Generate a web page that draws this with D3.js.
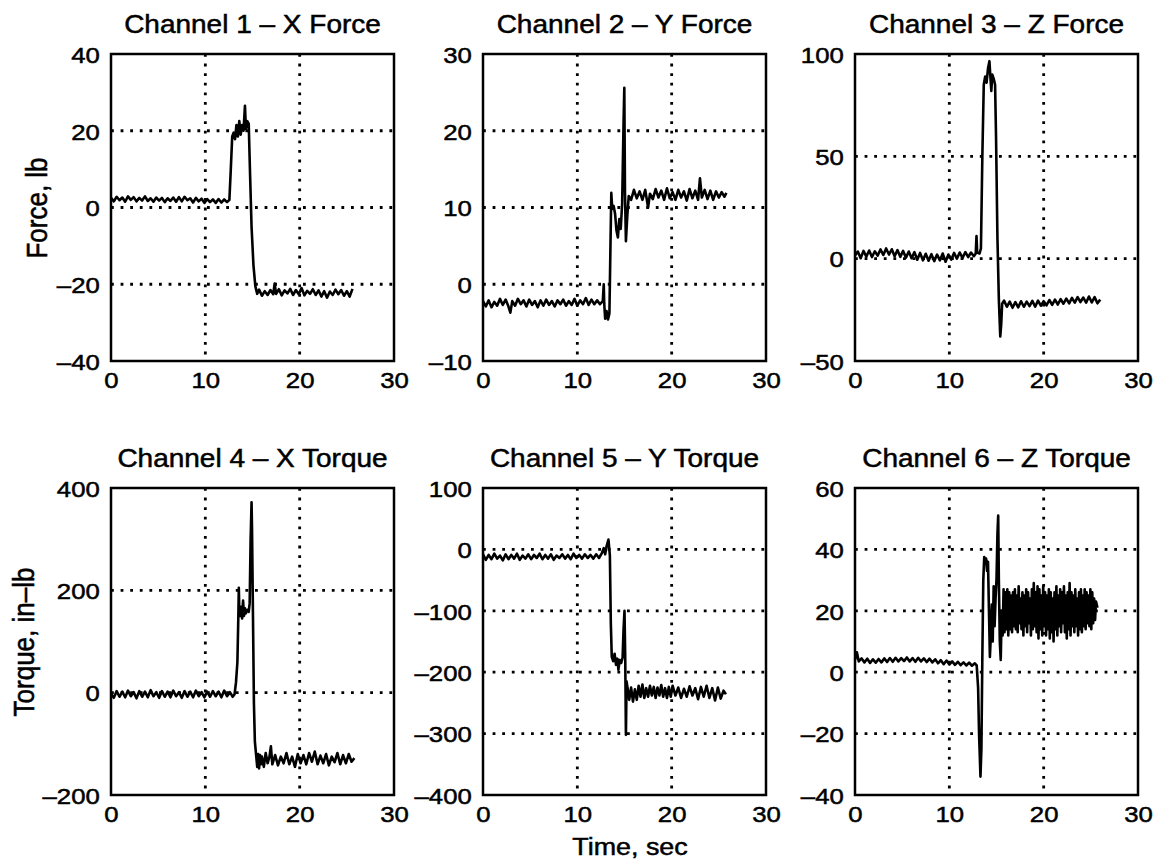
<!DOCTYPE html>
<html>
<head>
<meta charset="utf-8">
<script src="https://cdn.jsdelivr.net/npm/d3@7"></script>
<style>
  body { margin: 0; background: #fff; }
  svg { display: block; }
  text { font-family: "Liberation Sans", Arial, Helvetica, sans-serif; fill: #000; stroke: #000; stroke-width: 0.5px; }
</style>
</head>
<body>
<div id="chart"></div>
<script>
// time (sec), value pairs
var ch1 = [[0,2.5],[0.3,1.6],[0.6,2.8],[0.9,1.9],[1.2,2.6],[1.5,1.5],[1.8,2.9],[2.1,2.0],[2.4,2.7],[2.7,1.6],[3.0,2.5],[3.3,1.8],[3.6,2.9],[3.9,1.7],[4.2,2.4],[4.5,1.5],[4.8,2.6],[5.1,1.8],[5.4,2.5],[5.7,1.4],[6.0,2.4],[6.3,1.7],[6.6,2.6],[6.9,1.5],[7.2,2.7],[7.5,1.6],[7.8,2.8],[8.1,1.9],[8.4,2.4],[8.7,1.3],[9.0,2.5],[9.3,1.6],[9.6,2.3],[9.9,1.2],[10.2,2.2],[10.5,1.4],[10.8,2.1],[11.1,1.2],[11.4,2.2],[11.7,1.3],[12.0,2.1],[12.3,1.4],[12.55,2.0],
  [12.7,10],[12.85,18.5],[13.0,19.5],[13.15,17.8],[13.3,21.5],[13.45,18.5],[13.6,22.5],[13.75,19.0],[13.9,21.5],[14.05,20.0],[14.2,26.5],[14.3,20.5],[14.45,22.5],[14.6,21.8],[14.75,8],[14.9,-5],[15.1,-15],[15.3,-20.5],[15.5,-22.5],
  [15.7,-21.4],[16.0,-23.0],[16.3,-21.8],[16.6,-22.8],[16.9,-21.5],[17.2,-22.6],[17.35,-19.8],[17.5,-22.5],[17.8,-21.3],[18.1,-22.9],[18.4,-21.6],[18.7,-22.4],[19.0,-21.2],[19.3,-22.8],[19.6,-21.5],[19.9,-22.6],[20.2,-21.0],[20.5,-22.9],[20.8,-21.7],[21.1,-22.5],[21.4,-21.3],[21.7,-22.8],[22.0,-21.6],[22.3,-23.2],[22.6,-21.8],[22.9,-23.5],[23.2,-21.9],[23.5,-22.8],[23.8,-21.4],[24.1,-22.6],[24.4,-21.5],[24.7,-23.0],[25.0,-21.8],[25.3,-23.2],[25.6,-21.2]];

var ch2 = [[0,-2.2],[0.3,-2.9],[0.6,-2.1],[0.9,-3.0],[1.2,-2.3],[1.5,-2.8],[1.8,-1.9],[2.1,-2.7],[2.4,-2.0],[2.7,-2.9],[2.9,-3.7],[3.1,-2.2],[3.4,-2.8],[3.7,-1.9],[4.0,-2.6],[4.3,-2.1],[4.6,-2.9],[4.9,-2.0],[5.2,-2.7],[5.5,-2.2],[5.8,-3.0],[6.1,-2.1],[6.4,-2.8],[6.7,-2.0],[7.0,-2.7],[7.3,-2.2],[7.6,-2.9],[7.9,-2.1],[8.2,-2.6],[8.5,-2.0],[8.8,-2.8],[9.1,-2.2],[9.4,-2.7],[9.7,-1.9],[10.0,-2.8],[10.3,-2.1],[10.6,-2.6],[10.9,-1.8],[11.2,-2.7],[11.5,-2.0],[11.8,-2.6],[12.1,-2.1],[12.4,-2.6],[12.7,-2.2],
  [12.8,0.0],[12.85,-2.5],[12.95,-4.5],[13.1,-3.5],[13.25,-4.6],[13.4,-3.8],[13.6,11.9],[13.7,9.8],[13.85,10.2],[14.0,9.2],[14.15,7.0],[14.3,6.1],[14.45,8.5],[14.6,7.2],[14.75,10.5],[14.9,21],[14.98,25.6],[15.05,12],[15.15,5.6],[15.3,9],[15.45,11.5],
  [15.7,11.0],[16.0,12.3],[16.3,11.2],[16.6,12.1],[16.9,11.0],[17.2,12.3],[17.5,10.0],[17.7,11.8],[18.0,11.1],[18.3,12.4],[18.6,11.3],[18.9,12.2],[19.2,11.0],[19.5,12.5],[19.8,11.2],[20.1,12.0],[20.4,11.0],[20.7,12.3],[21.0,11.3],[21.3,12.1],[21.6,10.9],[21.9,12.4],[22.2,11.2],[22.5,12.2],[22.8,11.0],[23.0,13.8],[23.2,11.3],[23.5,12.3],[23.8,11.1],[24.1,12.2],[24.4,11.0],[24.7,12.1],[25.0,11.3],[25.3,12.0],[25.6,11.4],[25.8,11.9]];

var ch3 = [[0,1.5],[0.3,3.5],[0.6,0.2],[0.9,3.8],[1.2,1.0],[1.5,4.0],[1.8,0.8],[2.1,3.6],[2.4,1.5],[2.7,4.5],[3.0,1.8],[3.3,5.0],[3.6,2.0],[3.9,4.6],[4.2,1.2],[4.5,4.2],[4.8,0.9],[5.1,3.8],[5.4,0.5],[5.7,3.5],[6.0,0.2],[6.3,3.2],[6.6,-0.5],[6.9,2.8],[7.2,-0.8],[7.5,2.4],[7.8,-1.0],[8.1,2.2],[8.4,-1.2],[8.7,2.0],[9.0,-0.8],[9.3,2.5],[9.6,-1.5],[9.9,2.0],[10.2,-0.5],[10.5,2.8],[10.8,0.0],[11.1,3.0],[11.4,0.4],[11.7,3.2],[12.0,0.8],[12.3,3.0],[12.6,1.2],[12.8,2.5],
  [12.88,11],[12.95,3],[13.2,2.5],[13.35,5],[13.5,50],[13.65,85],[13.8,89],[13.95,86],[14.1,93],[14.25,96.5],[14.35,89],[14.45,82],[14.55,90],[14.7,88],[14.85,85],[14.95,60],[15.1,10],[15.25,-20],[15.4,-38],[15.5,-32],[15.6,-22],
  [15.8,-20.5],[16.1,-23.5],[16.4,-21.0],[16.7,-24.0],[17.0,-21.2],[17.3,-23.8],[17.6,-20.8],[17.9,-23.5],[18.2,-21.0],[18.5,-23.2],[18.8,-20.6],[19.1,-23.5],[19.4,-20.5],[19.7,-23.0],[20.0,-20.8],[20.3,-22.8],[20.6,-20.2],[20.9,-22.6],[21.2,-20.0],[21.5,-22.4],[21.8,-19.8],[22.1,-22.0],[22.4,-19.5],[22.7,-21.8],[23.0,-19.2],[23.3,-21.5],[23.6,-18.8],[23.9,-21.2],[24.2,-19.0],[24.5,-21.5],[24.8,-18.5],[25.1,-21.4],[25.4,-18.8],[25.7,-21.8],[26.0,-20.0]];

var ch4 = [[0,-2],[0.3,-10],[0.6,3],[0.9,-8],[1.2,2],[1.5,-9],[1.8,4],[2.1,-7],[2.4,1],[2.7,-11],[3.0,3],[3.3,-8],[3.6,2],[3.9,-9],[4.2,5],[4.5,-7],[4.8,1],[5.1,-10],[5.4,3],[5.7,-8],[6.0,2],[6.3,-9],[6.6,4],[6.9,-7],[7.2,1],[7.5,-10],[7.8,3],[8.1,-8],[8.4,2],[8.7,-9],[9.0,4],[9.3,-7],[9.6,1],[9.9,-9],[10.2,2],[10.5,-8],[10.8,3],[11.1,-7],[11.4,2],[11.7,-9],[12.0,4],[12.3,-7],[12.6,1],[12.9,-8],[13.1,-3],
  [13.25,20],[13.4,60],[13.5,150],[13.55,205],[13.6,160],[13.7,150],[13.8,168],[13.9,145],[14.0,180],[14.1,150],[14.2,165],[14.3,155],[14.45,162],[14.6,158],[14.7,175],[14.8,300],[14.9,372],[14.95,320],[15.05,150],[15.15,-20],[15.25,-95],[15.4,-125],
  [15.5,-145],[15.6,-120],[15.7,-148],[15.8,-122],[15.9,-140],[16.0,-125],[16.2,-145],[16.4,-118],[16.6,-138],[16.8,-125],[16.95,-105],[17.1,-140],[17.4,-122],[17.7,-142],[18.0,-125],[18.3,-138],[18.6,-118],[18.9,-140],[19.2,-125],[19.5,-145],[19.8,-120],[20.1,-138],[20.4,-122],[20.7,-140],[21.0,-118],[21.3,-135],[21.6,-115],[21.9,-140],[22.2,-123],[22.5,-138],[22.8,-120],[23.1,-142],[23.4,-125],[23.7,-136],[24.0,-118],[24.3,-140],[24.6,-122],[24.9,-138],[25.2,-120],[25.5,-135],[25.8,-128]];

var ch5 = [[0,-8],[0.3,-17],[0.6,-9],[0.9,-16],[1.2,-7],[1.5,-15],[1.8,-10],[2.1,-18],[2.4,-8],[2.7,-16],[3.0,-9],[3.3,-15],[3.6,-7],[3.9,-17],[4.2,-10],[4.5,-15],[4.8,-8],[5.1,-16],[5.4,-9],[5.7,-14],[6.0,-7],[6.3,-16],[6.6,-9],[6.9,-15],[7.2,-8],[7.5,-17],[7.8,-10],[8.1,-14],[8.4,-8],[8.7,-15],[9.0,-9],[9.3,-16],[9.6,-7],[9.9,-14],[10.2,-9],[10.5,-15],[10.8,-8],[11.1,-14],[11.4,-9],[11.7,-15],[12.0,-8],[12.3,-14],[12.6,-6],
  [12.8,2],[12.95,-8],[13.1,5],[13.3,16],[13.45,-10],[13.55,-120],[13.65,-175],[13.8,-182],[13.95,-170],[14.1,-188],[14.25,-178],[14.35,-196],[14.5,-180],[14.65,-185],[14.8,-176],[14.9,-130],[15.0,-100],[15.08,-180],[15.15,-302],[15.22,-215],[15.35,-228],
  [15.5,-245],[15.7,-225],[15.9,-248],[16.1,-228],[16.3,-245],[16.5,-222],[16.7,-240],[16.9,-220],[17.1,-242],[17.3,-226],[17.5,-240],[17.7,-222],[17.9,-238],[18.1,-224],[18.3,-242],[18.5,-225],[18.7,-238],[18.9,-221],[19.1,-240],[19.3,-226],[19.5,-242],[19.7,-224],[19.9,-240],[20.1,-222],[20.4,-238],[20.7,-225],[21.0,-242],[21.3,-227],[21.6,-240],[21.9,-223],[22.2,-238],[22.5,-226],[22.8,-244],[23.1,-224],[23.4,-240],[23.7,-222],[24.0,-242],[24.3,-226],[24.6,-246],[24.9,-225],[25.2,-243],[25.5,-230],[25.75,-236]];

var ch6 = [[0,4],[0.2,6.5],[0.4,3.5],[0.7,4.5],[1.0,3.2],[1.3,4.4],[1.6,3.0],[1.9,4.2],[2.2,3.1],[2.5,4.3],[2.8,3.2],[3.1,4.5],[3.4,3.3],[3.7,4.6],[4.0,3.4],[4.3,4.7],[4.6,3.5],[4.9,4.6],[5.2,3.6],[5.5,4.8],[5.8,3.5],[6.1,4.6],[6.4,3.4],[6.7,4.7],[7.0,3.5],[7.3,4.5],[7.6,3.3],[7.9,4.4],[8.2,3.2],[8.5,4.2],[8.8,2.9],[9.1,3.9],[9.4,2.6],[9.7,3.8],[10.0,2.5],[10.3,3.5],[10.6,2.4],[10.9,3.4],[11.2,2.3],[11.5,3.2],[11.8,2.2],[12.1,3.1],[12.4,2.1],[12.7,2.9],[12.9,2.2],
  [13.05,-5],[13.15,-20],[13.3,-34],[13.4,-25],[13.5,5],[13.6,30],[13.7,37.5],[13.8,36],[13.9,37],[14.0,33],[14.1,36],[14.2,20],[14.3,5],[14.4,12],[14.5,22],[14.6,10],[14.7,28],[14.8,15],[14.9,24],[15.0,30],[15.1,45],[15.18,51],[15.25,30],[15.35,10],[15.45,4],
  [15.55,20],[15.65,12],[15.75,27],[15.85,13],[15.95,26],[16.05,14],[16.15,27],[16.25,12],[16.35,26],[16.45,14],[16.55,25],[16.65,13],[16.75,26],[16.85,15],[16.95,27],[17.05,14],[17.15,25],[17.25,13],[17.35,28],[17.45,16],[17.55,24],
  [17.65,14],[17.75,26],[17.85,12],[17.95,25],[18.05,15],[18.15,27],[18.25,13],[18.35,26],[18.45,16],[18.55,24],[18.65,12],[18.75,27],[18.85,14],[18.95,29],[19.05,15],[19.15,26],[19.25,13],[19.35,28],[19.45,11],[19.55,27],[19.65,14],[19.75,25],[19.85,12],[19.95,28],[20.05,15],[20.15,26],[20.25,12],[20.35,25],[20.45,14],[20.55,27],[20.65,11],[20.75,26],[20.85,13],[20.95,24],[21.05,10],[21.15,26],[21.25,14],[21.35,28],[21.45,12],[21.55,25],[21.65,15],[21.75,27],[21.85,13],[21.95,26],[22.05,16],[22.15,28],[22.25,13],[22.35,25],[22.45,11],[22.55,26],[22.65,14],[22.75,29],[22.85,12],[22.95,26],[23.05,15],[23.15,25],[23.25,13],[23.35,27],[23.45,15],[23.55,24],[23.65,12],[23.75,26],[23.85,14],[23.95,27],[24.05,13],[24.15,25],[24.25,15],[24.35,27],[24.45,14],[24.55,26],[24.65,16],[24.75,25],[24.85,15],[24.95,27],[25.05,14],[25.15,26],[25.25,16],[25.35,24],[25.45,17],[25.55,23],[25.7,21]];

var titles = ["Channel 1 \u2013 X Force", "Channel 2 \u2013 Y Force", "Channel 3 \u2013 Z Force",
              "Channel 4 \u2013 X Torque", "Channel 5 \u2013 Y Torque", "Channel 6 \u2013 Z Torque"];
var yTicks = [[-40, -20, 0, 20, 40], [-10, 0, 10, 20, 30], [-50, 0, 50, 100],
              [-200, 0, 200, 400], [-400, -300, -200, -100, 0, 100], [-40, -20, 0, 20, 40, 60]];
var xTicks = [0, 10, 20, 30];
var series = [ch1, ch2, ch3, ch4, ch5, ch6];

var W = 1163, H = 863;
var colLeft = [111, 483, 855],
    rowTop = [54, 488],
    pw = 283, ph = 307;
var stretch = "scale(1.12,1)";

var svg = d3.select("#chart").append("svg")
    .attr("width", W)
    .attr("height", H);

var fmt = function(d) { return d < 0 ? "\u2013" + Math.abs(d) : String(d); };

series.forEach(function(data, i) {
    var yt = yTicks[i];
    var x = d3.scaleLinear().domain([0, 30]).range([0, pw]);
    var y = d3.scaleLinear().domain([yt[0], yt[yt.length - 1]]).range([ph, 0]);

    var g = svg.append("g")
        .attr("transform", "translate(" + colLeft[i % 3] + "," + rowTop[Math.floor(i / 3)] + ")");

    // dotted grid at inner ticks
    g.selectAll(".gx").data(xTicks.slice(1, -1)).enter().append("line")
        .attr("x1", x).attr("x2", x).attr("y1", 0).attr("y2", ph)
        .attr("stroke", "#000").attr("stroke-width", 2.8)
        .attr("stroke-dasharray", "2.8,6.8");
    g.selectAll(".gy").data(yt.slice(1, -1)).enter().append("line")
        .attr("y1", y).attr("y2", y).attr("x1", 0).attr("x2", pw)
        .attr("stroke", "#000").attr("stroke-width", 2.8)
        .attr("stroke-dasharray", "2.8,6.8");

    var line = d3.line()
        .x(function(d) { return x(d[0]); })
        .y(function(d) { return y(d[1]); });

    g.append("path")
        .datum(data)
        .attr("d", line)
        .attr("fill", "none")
        .attr("stroke", "#000")
        .attr("stroke-width", 2.6)
        .attr("stroke-linejoin", "round");

    g.append("rect")
        .attr("width", pw).attr("height", ph)
        .attr("fill", "none")
        .attr("stroke", "#000")
        .attr("stroke-width", 2.5);

    var ax = g.append("g")
        .attr("transform", "translate(0," + ph + ")")
        .call(d3.axisBottom(x).tickValues(xTicks).tickSize(0).tickPadding(11).tickFormat(fmt));
    var ay = g.append("g")
        .call(d3.axisLeft(y).tickValues(yt).tickSize(0).tickPadding(10).tickFormat(fmt));

    [ax, ay].forEach(function(a) {
        a.select(".domain").remove();
        a.selectAll("text")
            .attr("fill", "#000")
            .style("font-size", "23px")
            .attr("transform", stretch);
    });
    ay.selectAll("text").attr("dy", "0.36em");

    g.append("text")
        .attr("transform", "translate(" + pw / 2 + ",-21) " + stretch)
        .attr("text-anchor", "middle")
        .style("font-size", "25px")
        .text(titles[i]);
});

svg.append("text")
    .attr("transform", "translate(47,208) " + stretch + " rotate(-90)")
    .attr("text-anchor", "middle")
    .style("font-size", "26px")
    .text("Force, lb");

svg.append("text")
    .attr("transform", "translate(34,642) " + stretch + " rotate(-90)")
    .attr("text-anchor", "middle")
    .style("font-size", "26px")
    .text("Torque, in\u2013lb");

svg.append("text")
    .attr("transform", "translate(630,855) " + stretch)
    .attr("text-anchor", "middle")
    .style("font-size", "24px")
    .text("Time, sec");
</script>
</body>
</html>
